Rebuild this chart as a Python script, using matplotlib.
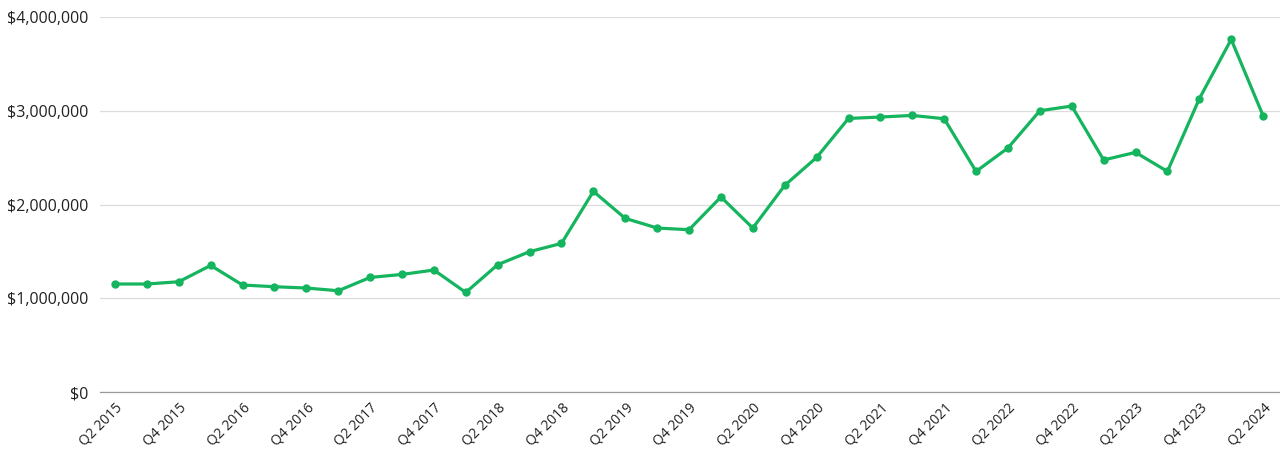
import matplotlib.pyplot as plt
import matplotlib.ticker as mticker
import numpy as np

plt.rcParams['font.family'] = ['Open Sans', 'DejaVu Sans']

# quarterly values, Q2 2015 .. Q2 2024
quarters = []
q, y = 2, 2015
for _ in range(37):
    quarters.append(f'Q{q} {y}')
    q += 1
    if q > 4:
        q, y = 1, y + 1

values = [1152000, 1152000, 1176000, 1350000, 1141000, 1123000, 1109000, 1080000,
          1222000, 1254000, 1301000, 1062000, 1358000, 1497000, 1585000, 2140000,
          1852000, 1749000, 1731000, 2080000, 1749000, 2204000, 2502000, 2918000,
          2933000, 2950000, 2915000, 2353000, 2603000, 3000000, 3050000, 2475000,
          2556000, 2353000, 3128000, 3761000, 2947000]

green = '#15b45e'

fig = plt.figure(figsize=(12.8, 4.55), dpi=100)
ax = fig.add_axes([100 / 1280, 63 / 455, 1180 / 1280, 375 / 455])

x = np.arange(len(values))
ax.plot(x, values, color=green, linewidth=2.3, marker='o', markersize=5,
        clip_on=False, zorder=3)

ax.set_xlim(-0.47, len(values) - 0.47)
ax.set_ylim(0, 4000000)
ax.set_yticks([0, 1000000, 2000000, 3000000, 4000000])
ax.yaxis.set_major_formatter(mticker.FuncFormatter(lambda v, p: f'${v:,.0f}'))
ax.grid(axis='y', color='#dddddd', linewidth=0.9)
ax.set_axisbelow(True)

ax.set_xticks(x[::2])
ax.set_xticklabels(quarters[::2], rotation=45, ha='right', rotation_mode='anchor')

for s in ['top', 'right', 'left']:
    ax.spines[s].set_visible(False)
ax.spines['bottom'].set_color('#999999')
ax.spines['bottom'].set_linewidth(0.9)

ax.tick_params(axis='both', length=0, colors='#222222')
ax.tick_params(axis='y', pad=8.5, labelsize=11.5)
ax.tick_params(axis='x', pad=6, labelsize=10)

plt.savefig('out.png', dpi=100)
